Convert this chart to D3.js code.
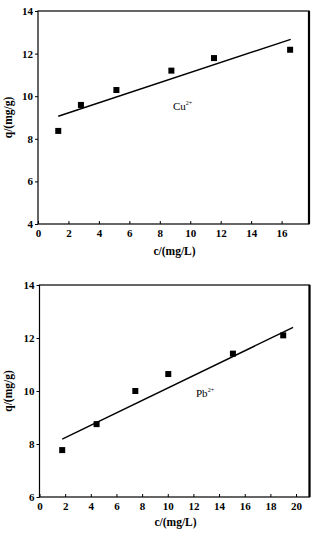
<!DOCTYPE html>
<html><head><meta charset="utf-8">
<script src="https://cdn.jsdelivr.net/npm/d3@7"></script>
<style>body{margin:0;background:#fff}svg{display:block}text{font-family:"Liberation Serif","Times New Roman",serif;fill:#000}</style>
</head><body><svg id="c" width="314" height="535"></svg>
<script>
// Cu2+ panel
const cuC = [1.33, 2.82, 5.15, 8.76, 11.56, 16.56];
const cuQ = [8.37, 9.59, 10.29, 11.2, 11.79, 12.18];
const cuFitC = [1.33, 16.6];
const cuFitQ = [9.06, 12.67];
const cuXTicks = [0, 2, 4, 6, 8, 10, 12, 14, 16];
const cuYTicks = [4, 6, 8, 10, 12, 14];
// Pb2+ panel
const pbC = [1.77, 4.45, 7.47, 10.04, 15.08, 19.0];
const pbQ = [7.77, 8.75, 10.0, 10.64, 11.41, 12.1];
const pbFitC = [1.77, 19.77];
const pbFitQ = [8.18, 12.4];
const pbXTicks = [0, 2, 4, 6, 8, 10, 12, 14, 16, 18, 20];
const pbYTicks = [6, 8, 10, 12, 14];

const svg = d3.select("#c");

function panel(o) {
  const x = d3.scaleLinear().domain(o.xd).range([o.l, o.r]);
  const y = d3.scaleLinear().domain(o.yd).range([o.b, o.t]);
  const g = svg.append("g");
  // x axis inward ticks
  const xa = g.append("g").attr("transform", `translate(0,${o.b})`)
    .call(d3.axisBottom(x).tickValues(o.xt).tickSize(-3).tickPadding(5).tickFormat(d3.format("d")));
  xa.select(".domain").remove();
  xa.selectAll("line").attr("stroke", "#000");
  xa.selectAll("text").attr("font-size", 11).attr("font-weight", "bold").attr("dy", "0.71em");
  const ya = g.append("g").attr("transform", `translate(${o.l},0)`)
    .call(d3.axisLeft(y).tickValues(o.yt).tickSize(3).tickPadding(2).tickFormat(d3.format("d")));
  ya.select(".domain").remove();
  ya.selectAll("line").attr("stroke", "#000");
  ya.selectAll("text").attr("font-size", 11).attr("font-weight", "bold");
  // frame
  g.append("rect").attr("x", o.l).attr("y", o.t).attr("width", o.r - o.l).attr("height", o.b - o.t)
    .attr("fill", "none").attr("stroke", "#000").attr("stroke-width", 1.2);
  g.append("line").attr("x1", o.r).attr("x2", o.r).attr("y1", o.t).attr("y2", o.b)
    .attr("stroke", "#000").attr("stroke-width", 2.2);
  // fit line
  g.append("path").datum(d3.zip(o.fc, o.fq))
    .attr("d", d3.line().x(d => x(d[0])).y(d => y(d[1])))
    .attr("fill", "none").attr("stroke", "#000").attr("stroke-width", 1.4);
  // points
  g.selectAll("rect.pt").data(d3.zip(o.c, o.q)).join("rect").attr("class", "pt")
    .attr("x", d => x(d[0]) - 3).attr("y", d => y(d[1]) - 3).attr("width", 6).attr("height", 6).attr("fill", "#000");
  // label
  const lab = g.append("text").attr("x", o.lx).attr("y", o.ly).attr("font-size", 11);
  lab.append("tspan").text(o.ion);
  lab.append("tspan").text("2+").attr("font-size", 6).attr("dy", -5);
  // axis titles
  g.append("text").attr("x", (o.l + o.r) / 2 + 1).attr("y", o.xty).attr("text-anchor", "middle")
    .attr("font-size", 11.5).attr("font-weight", "bold").text("c/(mg/L)");
  g.append("text").attr("transform", `translate(12,${(o.t + o.b) / 2}) rotate(-90)`)
    .attr("text-anchor", "middle").attr("font-size", 11.5).attr("font-weight", "bold").text("q/(mg/g)");
}

panel({xd: [0, 17.8], yd: [4, 14], l: 38, r: 309, t: 11, b: 224, xt: cuXTicks, yt: cuYTicks,
  c: cuC, q: cuQ, fc: cuFitC, fq: cuFitQ, ion: "Cu", lx: 173, ly: 110, xty: 255});
panel({xd: [0, 21.05], yd: [6, 14], l: 39.5, r: 309.5, t: 285, b: 497, xt: pbXTicks, yt: pbYTicks,
  c: pbC, q: pbQ, fc: pbFitC, fq: pbFitQ, ion: "Pb", lx: 196, ly: 397, xty: 526});
</script></body></html>
